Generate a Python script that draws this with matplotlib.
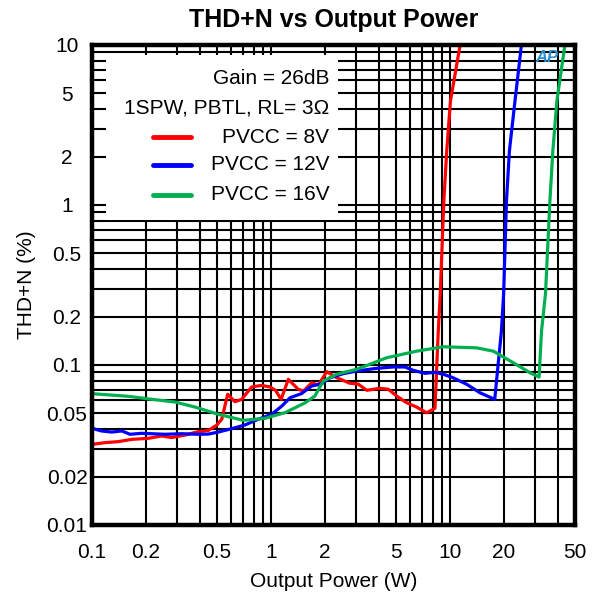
import numpy as np
import matplotlib.pyplot as plt
from matplotlib.ticker import LogLocator, FixedLocator, FixedFormatter, NullFormatter
from matplotlib.patches import Rectangle
from matplotlib.lines import Line2D

plt.rcParams['font.family'] = ['Liberation Sans', 'DejaVu Sans']

# PVCC = 8V
p8 = [0.1, 0.118, 0.14, 0.167, 0.206, 0.245, 0.278, 0.331, 0.392, 0.447, 0.497, 0.531,
      0.573, 0.629, 0.686, 0.78, 0.888, 0.987, 1.06, 1.14, 1.25, 1.42, 1.52, 1.69, 1.84,
      2.05, 2.33, 2.76, 3.07, 3.43, 4.06, 4.53, 5.04, 5.73, 6.51, 7.41, 8.25, 8.61, 8.83,
      9.25, 9.6, 10.07, 11.4, 11.8]
thd8 = [0.0319, 0.0327, 0.0332, 0.0343, 0.0348, 0.036, 0.0352, 0.0365, 0.0383, 0.039, 0.042, 0.0458,
        0.0656, 0.059, 0.061, 0.0729, 0.0746, 0.0729, 0.0695, 0.061, 0.0814, 0.0705, 0.0688, 0.0775, 0.075,
        0.0908, 0.0833, 0.0769, 0.076, 0.0695, 0.0715, 0.0705, 0.064, 0.0581, 0.0546, 0.0503, 0.0536, 0.163, 0.278,
        1.06, 2.18, 4.47, 10.0, 12.0]

# PVCC = 12V
p12 = [0.1, 0.113, 0.129, 0.147, 0.163, 0.189, 0.216, 0.256, 0.317, 0.392, 0.447, 0.508,
       0.603, 0.716, 0.849, 1.01, 1.15, 1.28, 1.48, 1.69, 1.92, 2.14, 2.54, 3.01, 3.89,
       4.82, 5.61, 6.24, 7.25, 8.25, 9.18, 10.4, 12.4, 14.7, 17.8, 19.4, 19.96, 20.7,
       21.5, 23.1, 25.1, 25.6]
thd12 = [0.0402, 0.0387, 0.0381, 0.0387, 0.0369, 0.0374, 0.0372, 0.0369, 0.0372, 0.0369, 0.037, 0.0381,
         0.04, 0.0422, 0.0458, 0.0492, 0.0554, 0.0625, 0.0662, 0.0739, 0.0764, 0.0833, 0.0883, 0.0917, 0.0953,
         0.0972, 0.0972, 0.0926, 0.0887, 0.09, 0.0875, 0.0833, 0.0758, 0.0671, 0.061, 0.163, 0.278, 1.06,
         2.18, 4.47, 10.0, 12.0]

# PVCC = 16V
p16 = [0.1, 0.16, 0.216, 0.291, 0.376, 0.508, 0.70, 0.925, 1.2, 1.55, 1.76, 1.96, 2.33,
       2.65, 3.01, 3.57, 4.43, 6.51, 9.18, 14.1, 17.5, 22.6, 28.0, 31.5, 32.5, 34.2,
       36.2, 37.6, 39.6, 43.9, 45.0]
thd16 = [0.0662, 0.0637, 0.061, 0.0587, 0.0546, 0.0492, 0.0451, 0.0464, 0.0504, 0.058, 0.064, 0.0794, 0.0875,
         0.0908, 0.094, 0.101, 0.111, 0.122, 0.130, 0.128, 0.122, 0.1033, 0.0895, 0.0841, 0.163, 0.278,
         1.06, 2.18, 4.47, 10.0, 12.0]

series = [(p8, thd8, '#ff0000', 'PVCC = 8V'),
          (p12, thd12, '#0000ff', 'PVCC = 12V'),
          (p16, thd16, '#00b050', 'PVCC = 16V')]
header = ['Gain = 26dB', '1SPW, PBTL, RL= 3\u03a9']

xticks = [0.1, 0.2, 0.5, 1, 2, 5, 10, 20, 50]
xticklabels = ['0.1', '0.2', '0.5', '1', '2', '5', '10', '20', '50']
yticks = [0.01, 0.02, 0.05, 0.1, 0.2, 0.5, 1, 2, 5, 10]
yticklabels = ['0.01', '0.02', '0.05', '0.1', '0.2', '0.5', '1', '2', '5', '10']

fig = plt.figure(figsize=(5.96, 5.99), dpi=100)
ax = fig.add_axes([92/596, 1-525/599, 483/596, 480/599])
ax.set_xscale('log')
ax.set_yscale('log')
ax.set_xlim(0.1, 50)
ax.set_ylim(0.01, 10)

for px, py, col, lab in series:
    ax.plot(px, py, color=col, lw=2.3, zorder=2, solid_joinstyle='round')

ax.xaxis.set_major_locator(FixedLocator(xticks))
ax.xaxis.set_major_formatter(FixedFormatter(xticklabels))
ax.yaxis.set_major_locator(FixedLocator(yticks))
ax.yaxis.set_major_formatter(FixedFormatter(yticklabels))
ax.xaxis.set_minor_locator(LogLocator(base=10, subs=np.arange(1, 10), numticks=20))
ax.yaxis.set_minor_locator(LogLocator(base=10, subs=np.arange(1, 10), numticks=20))
ax.xaxis.set_minor_formatter(NullFormatter())
ax.yaxis.set_minor_formatter(NullFormatter())
ax.grid(which='both', color='black', lw=1.5)
ax.tick_params(which='both', length=0, labelsize=15)
ax.tick_params(axis='x', pad=13)
ax.tick_params(axis='y', pad=18)
for t in ax.get_yticklabels():
    t.set_ha('center')
for s in ax.spines.values():
    s.set_linewidth(3.2)

ax.set_title('THD+N vs Output Power', fontsize=18, fontweight='bold', pad=13)
ax.set_xlabel('Output Power (W)', fontsize=15)
ax.set_ylabel('THD+N (%)', fontsize=15)
ax.xaxis.set_label_coords(0.5, -0.097)
ax.yaxis.set_label_coords(-0.115, 0.5)

# legend block
ax.add_patch(Rectangle((0.029, 0.635), 0.48, 0.344, transform=ax.transAxes,
                       facecolor='white', edgecolor='none', zorder=3))
rows = [0.931, 0.869, 0.808, 0.75, 0.6875]
for i, txt in enumerate(header):
    ax.text(0.491, rows[i], txt, transform=ax.transAxes, ha='right', va='center',
            fontsize=15, zorder=4)
for i, (px, py, col, lab) in enumerate(series):
    y = rows[i + 2]
    ax.add_line(Line2D([0.126, 0.205], [y, y], transform=ax.transAxes, color=col,
                       lw=3.5, solid_capstyle='round', zorder=4))
    ax.text(0.491, y, lab, transform=ax.transAxes, ha='right', va='center',
            fontsize=15, zorder=4)

ax.text(0.942, 0.973, 'AP', transform=ax.transAxes, ha='center', va='center',
        fontsize=12, fontstyle='italic', fontweight='bold', color='#2a8fd0', zorder=4)

fig.savefig('out.png', dpi=100)
